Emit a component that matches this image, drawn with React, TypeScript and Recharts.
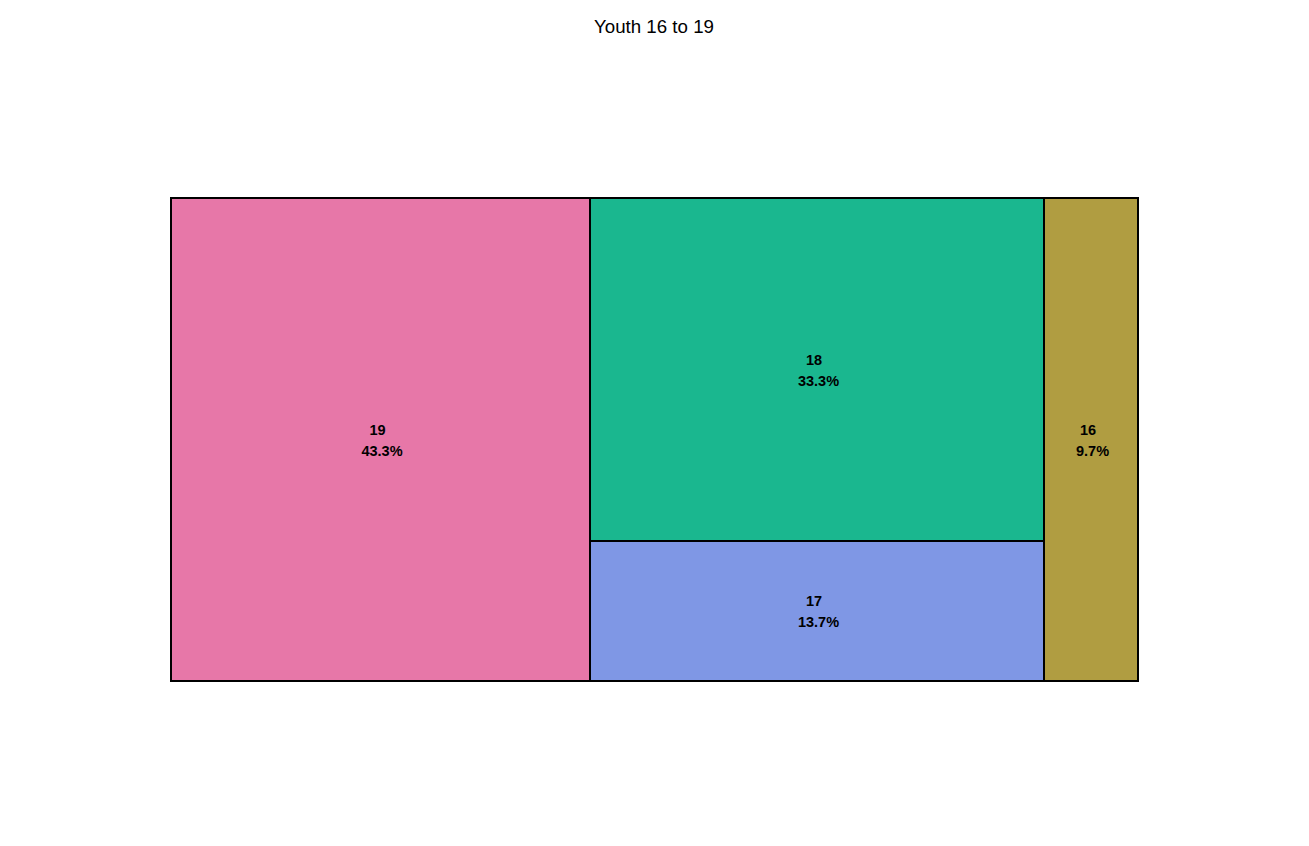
import React from 'react';
import { Treemap } from 'recharts';

const categories = ['19', '18', '17', '16'];
const shares = [43.3, 33.3, 13.7, 9.7];
const colors = ['#E777A8', '#1AB78F', '#7F97E5', '#B09D41'];
const title = 'Youth 16 to 19';

const data = categories.map((c, i) => ({ name: c, size: shares[i], fill: colors[i], pct: shares[i] }));

const Cell = (props: any) => {
  const { x, y, width, height, depth, name } = props;
  if (depth !== 1) return null;
  const i = categories.indexOf(String(name));
  const cx = x + width / 2;
  const cy = y + height / 2;
  return (
    <g>
      <rect x={x} y={y} width={width} height={height} fill={colors[i]} stroke="#000" strokeWidth={2} />
      <text x={cx - 3} y={cy - 5} textAnchor="middle" fontFamily="'Liberation Sans', Arial, sans-serif" fontWeight="bold" fontSize={14.5} fill="#000">
        {name}
      </text>
      <text x={cx + 1.5} y={cy + 16} textAnchor="middle" fontFamily="'Liberation Sans', Arial, sans-serif" fontWeight="bold" fontSize={14.5} fill="#000">
        {shares[i].toFixed(1) + '%'}
      </text>
    </g>
  );
};

export default function App() {
  return (
    <div style={{ position: 'absolute', left: 0, top: 0, width: 1309, height: 846, background: '#fff' }}>
      <style>{'.recharts-surface{overflow:visible}'}</style>
      <svg width={1309} height={60} style={{ position: 'absolute', left: 0, top: 0 }}>
        <text x={654} y={33} textAnchor="middle" fontFamily="'Liberation Sans', Arial, sans-serif" fontSize={18.7} fill="#000">
          {title}
        </text>
      </svg>
      <div style={{ position: 'absolute', left: 171, top: 198 }}>
        <Treemap
          width={967}
          height={483}
          data={data}
          dataKey="size"
          nameKey="name"
          isAnimationActive={false}
          content={<Cell />}
        />
      </div>
    </div>
  );
}
